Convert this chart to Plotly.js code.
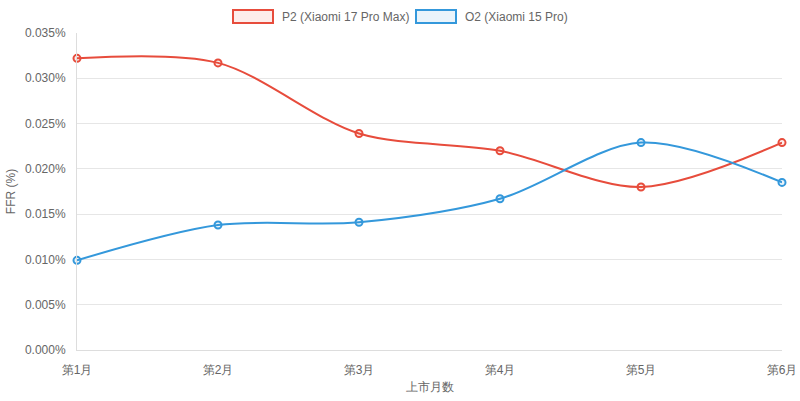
<!DOCTYPE html>
<html>
<head>
<meta charset="utf-8">
<script src="https://cdn.plot.ly/plotly-3.0.1.min.js"></script>
<style>
  html, body { margin: 0; padding: 0; background: #fff; }
  #chart { width: 800px; height: 401px; }
</style>
</head>
<body>
<div id="chart"></div>
<script>
// FFR per month since launch, in percent
const months = ["第1月", "第2月", "第3月", "第4月", "第5月", "第6月"];
const p2Name = "P2 (Xiaomi 17 Pro Max)";
const o2Name = "O2 (Xiaomi 15 Pro)";
const p2Ffr = [0.0322, 0.0317, 0.0239, 0.0220, 0.0180, 0.0229];
const o2Ffr = [0.0099, 0.0138, 0.0141, 0.0167, 0.0229, 0.0185];
const yTicks = [0, 0.005, 0.010, 0.015, 0.020, 0.025, 0.030, 0.035];

const RED = "#e74c3c", BLUE = "#3498db";
const TXT = "#666";
const FONT = "Liberation Sans, Arial, Helvetica, sans-serif";

function series(name, ys, color, fill) {
  return {
    type: "scatter", mode: "lines+markers", name,
    x: months, y: ys,
    line: { color, width: 2, shape: "spline", smoothing: 0.9 },
    marker: { size: 7, color: fill, line: { color, width: 2 } },
    hovertemplate: "%{x}: %{y:.4f}%<extra>" + name + "</extra>",
    cliponaxis: false,
  };
}

const data = [
  series(p2Name, p2Ffr, RED, "rgba(231,76,60,0.1)"),
  series(o2Name, o2Ffr, BLUE, "rgba(52,152,219,0.1)"),
];

// Chart.js-style legend boxes drawn above the plot
const legendBoxes = [
  { x0: 233, x1: 273, color: RED, fill: "rgba(231,76,60,0.1)", label: p2Name, tx: 280 },
  { x0: 416, x1: 456, color: BLUE, fill: "rgba(52,152,219,0.1)", label: o2Name, tx: 463 },
];

const layout = {
  width: 800, height: 401,
  paper_bgcolor: "#fff", plot_bgcolor: "#fff",
  font: { family: FONT, color: TXT, size: 12 },
  margin: { l: 77, r: 18, t: 33, b: 51 },
  showlegend: false,
  xaxis: {
    type: "category", range: [0, months.length - 1],
    showgrid: false, zeroline: false,
    showline: true, linecolor: "#ddd", linewidth: 1,
    ticks: "", ticklabelstandoff: 9,
    tickfont: { size: 12, color: TXT },
    title: { text: "上市月数", font: { size: 12, color: TXT }, standoff: 6 },
    fixedrange: true,
  },
  yaxis: {
    range: [0, 0.035],
    tickvals: yTicks,
    ticktext: yTicks.map(v => v.toFixed(3) + "%"),
    gridcolor: "#e6e6e6", gridwidth: 1,
    zeroline: false,
    showline: true, linecolor: "#ddd", linewidth: 1,
    ticks: "", ticklabelstandoff: 8,
    tickfont: { size: 12, color: TXT },
    title: { text: "FFR (%)", font: { size: 12, color: TXT }, standoff: 6 },
    fixedrange: true,
  },
  shapes: legendBoxes.map(b => ({
    type: "rect", xref: "paper", yref: "paper",
    x0: (b.x0 - 77) / 705, x1: (b.x1 - 77) / 705,
    y0: (401 - 51 - 23) / 317, y1: (401 - 51 - 10) / 317,
    line: { color: b.color, width: 2 }, fillcolor: b.fill,
  })),
  annotations: legendBoxes.map(b => ({
    xref: "paper", yref: "paper",
    x: (b.tx - 77) / 705, y: (401 - 51 - 16.5) / 317,
    xanchor: "left", yanchor: "middle", showarrow: false,
    text: b.label, font: { size: 12, color: TXT },
  })),
};

Plotly.newPlot("chart", data, layout, { displayModeBar: false, staticPlot: true });
</script>
</body>
</html>
